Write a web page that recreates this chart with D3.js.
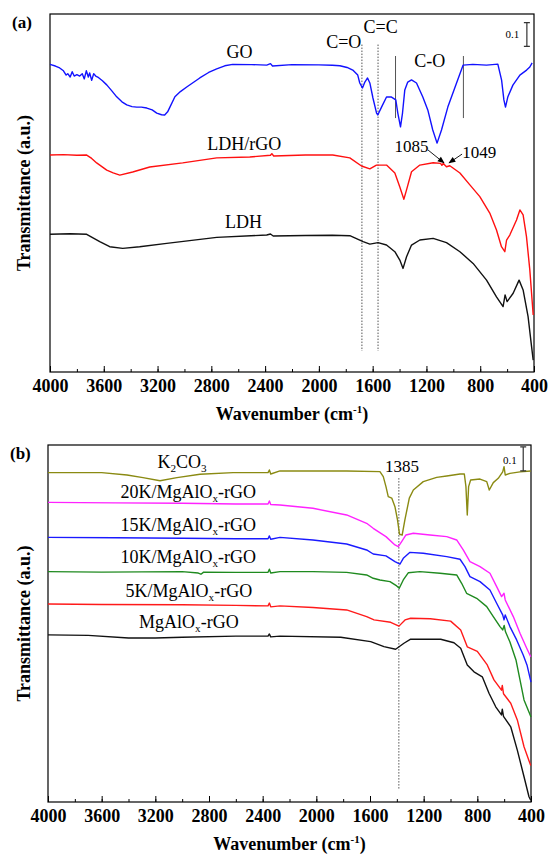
<!DOCTYPE html>
<html>
<head>
<meta charset="utf-8">
<script src="https://cdn.jsdelivr.net/npm/d3@7"></script>
<style>
body { margin: 0; background: #fff; }
svg { font-family: "Liberation Serif", "Times New Roman", serif; }
</style>
</head>
<body>
<script>
const xTicks = d3.range(4000, 399, -400);
const xMinor = d3.range(4000, 399, -200);

// panel (a) spectra: [wavenumber cm-1, transmittance a.u.]
const goA = [[4000,1.289],[3960,1.282],[3928,1.274],[3900,1.262],[3880,1.244],[3868,1.250],[3850,1.236],[3835,1.258],[3820,1.240],[3800,1.246],[3779,1.240],[3760,1.250],[3745,1.228],[3730,1.262],[3715,1.236],[3705,1.253],[3690,1.222],[3675,1.250],[3660,1.240],[3645,1.236],[3610,1.220],[3578,1.203],[3540,1.178],[3504,1.153],[3465,1.132],[3429,1.119],[3390,1.112],[3355,1.110],[3320,1.110],[3280,1.106],[3240,1.098],[3206,1.085],[3170,1.078],[3147,1.077],[3125,1.090],[3108,1.110],[3071,1.153],[3030,1.175],[2983,1.194],[2886,1.232],[2820,1.255],[2760,1.270],[2700,1.283],[2641,1.289],[2500,1.288],[2388,1.286],[2360,1.292],[2345,1.282],[2200,1.288],[2000,1.287],[1900,1.285],[1844,1.283],[1790,1.276],[1748,1.265],[1711,1.244],[1696,1.211],[1676,1.190],[1658,1.215],[1638,1.232],[1621,1.211],[1598,1.148],[1571,1.085],[1562,1.077],[1534,1.110],[1497,1.152],[1460,1.152],[1428,1.140],[1413,1.085],[1393,1.027],[1378,1.085],[1361,1.182],[1339,1.215],[1311,1.224],[1274,1.211],[1227,1.152],[1190,1.098],[1153,1.014],[1121,0.959],[1088,1.014],[1041,1.110],[976,1.211],[927,1.286],[855,1.289],[753,1.286],[669,1.290],[641,1.223],[624,1.140],[612,1.110],[595,1.152],[557,1.202],[505,1.244],[455,1.265],[431,1.278],[414,1.295]];
const ldhRgoA = [[4000,0.909],[3900,0.911],[3800,0.908],[3727,0.909],[3690,0.895],[3653,0.876],[3578,0.846],[3530,0.834],[3481,0.825],[3385,0.838],[3258,0.859],[3013,0.876],[2760,0.897],[2514,0.901],[2360,0.908],[2350,0.915],[2336,0.905],[2100,0.909],[1897,0.909],[1770,0.897],[1683,0.863],[1621,0.851],[1572,0.867],[1497,0.867],[1435,0.834],[1398,0.775],[1368,0.724],[1348,0.763],[1311,0.839],[1249,0.867],[1150,0.877],[1095,0.874],[1085,0.866],[1075,0.874],[1051,0.860],[1026,0.864],[951,0.834],[877,0.784],[803,0.735],[729,0.666],[679,0.595],[642,0.525],[617,0.504],[604,0.553],[580,0.574],[530,0.637],[505,0.679],[481,0.658],[456,0.567],[431,0.427],[406,0.239]];
const ldhA = [[4000,0.577],[3850,0.579],[3727,0.577],[3630,0.546],[3556,0.525],[3459,0.518],[3333,0.525],[3132,0.539],[2760,0.564],[2388,0.574],[2360,0.578],[2340,0.570],[2100,0.572],[1900,0.573],[1770,0.571],[1671,0.546],[1621,0.536],[1560,0.542],[1497,0.532],[1435,0.504],[1398,0.469],[1374,0.434],[1348,0.483],[1311,0.532],[1249,0.553],[1150,0.560],[1051,0.542],[951,0.504],[853,0.455],[753,0.385],[679,0.315],[630,0.274],[615,0.323],[600,0.295],[555,0.330],[511,0.385],[481,0.344],[444,0.232],[418,0.106],[406,0.050]];

// panel (b) spectra
const k2co3B = [[4000,1.384],[3600,1.384],[3411,1.374],[3292,1.363],[3165,1.350],[3039,1.363],[2867,1.377],[2621,1.384],[2360,1.384],[2350,1.395],[2340,1.378],[2271,1.391],[1774,1.391],[1526,1.388],[1501,1.367],[1481,1.325],[1464,1.283],[1438,1.277],[1414,1.241],[1395,1.185],[1380,1.125],[1360,1.122],[1340,1.185],[1307,1.277],[1277,1.311],[1203,1.346],[1103,1.364],[1028,1.370],[929,1.378],[897,1.378],[885,1.325],[875,1.206],[865,1.325],[850,1.353],[780,1.357],[730,1.346],[711,1.311],[681,1.342],[644,1.360],[611,1.387],[601,1.409],[592,1.374],[557,1.381],[482,1.387],[402,1.391]];
const k20B = [[4000,1.259],[3500,1.257],[3000,1.255],[2600,1.252],[2360,1.252],[2350,1.265],[2340,1.250],[2271,1.248],[2025,1.234],[1774,1.206],[1625,1.171],[1576,1.150],[1481,1.115],[1414,1.080],[1389,1.073],[1364,1.094],[1332,1.122],[1277,1.129],[1153,1.122],[1028,1.115],[954,1.101],[905,1.059],[855,1.010],[780,0.989],[706,0.961],[656,0.905],[619,0.863],[601,0.877],[592,0.849],[532,0.779],[482,0.709],[432,0.646],[402,0.610]];
const k15B = [[4000,1.112],[3500,1.110],[3000,1.108],[2600,1.106],[2360,1.106],[2350,1.118],[2340,1.104],[2271,1.112],[2025,1.101],[1774,1.084],[1625,1.059],[1576,1.042],[1481,1.034],[1414,1.010],[1377,0.999],[1352,1.024],[1302,1.049],[1203,1.045],[1028,1.031],[929,1.020],[892,0.989],[855,0.947],[780,0.926],[706,0.891],[656,0.835],[611,0.786],[601,0.765],[592,0.786],[557,0.737],[507,0.681],[458,0.618],[430,0.576],[400,0.504]];
const k10B = [[4000,0.968],[3600,0.966],[3000,0.968],[2880,0.962],[2860,0.957],[2840,0.966],[2600,0.965],[2360,0.965],[2350,0.978],[2340,0.962],[2271,0.968],[2025,0.968],[1774,0.965],[1625,0.954],[1576,0.940],[1526,0.933],[1451,0.926],[1401,0.908],[1382,0.898],[1352,0.933],[1315,0.963],[1228,0.968],[1078,0.961],[954,0.954],[917,0.919],[880,0.877],[805,0.856],[730,0.821],[681,0.779],[631,0.737],[611,0.723],[600,0.742],[590,0.715],[557,0.672],[512,0.597],[452,0.429],[400,0.357]];
const k5B = [[4000,0.832],[3600,0.830],[3000,0.829],[2600,0.826],[2360,0.824],[2350,0.836],[2340,0.820],[2271,0.824],[2025,0.817],[1774,0.807],[1625,0.779],[1570,0.765],[1446,0.755],[1384,0.739],[1339,0.765],[1297,0.772],[1150,0.770],[999,0.760],[924,0.723],[875,0.652],[800,0.633],[726,0.576],[676,0.513],[620,0.470],[614,0.490],[605,0.455],[551,0.415],[502,0.345],[452,0.232],[402,0.153]];
const k0B = [[4000,0.702],[3700,0.700],[3400,0.689],[3200,0.689],[3000,0.692],[2600,0.697],[2360,0.697],[2350,0.706],[2340,0.694],[2271,0.697],[1818,0.692],[1595,0.674],[1496,0.653],[1409,0.642],[1347,0.667],[1297,0.684],[1073,0.684],[974,0.669],[924,0.646],[875,0.576],[825,0.547],[763,0.526],[713,0.457],[663,0.400],[620,0.366],[614,0.390],[605,0.360],[551,0.316],[502,0.218],[452,0.106],[415,0.022],[402,0.008]];

const markA = [1680, 1560];   // dotted C=O, C=C
const coRange = [1430, 925];  // solid C-O bounds
const markB = [1385];

const svg = d3.select('body').append('svg')
    .attr('width', 548)
    .attr('height', 854);

svg.append('defs').append('marker')
    .attr('id', 'arr').attr('viewBox', '0 0 10 10').attr('refX', 9).attr('refY', 5)
    .attr('markerUnits', 'userSpaceOnUse')
    .attr('markerWidth', 8).attr('markerHeight', 7).attr('orient', 'auto')
  .append('path').attr('d', 'M0,1L10,5L0,9Z').attr('fill', '#000');

function panel(box) {
  const x = d3.scaleLinear().domain([4000, 400]).range([box.left, box.right]);
  const y = d3.scaleLinear().domain([0, 1.5]).range([box.bottom, box.top]);
  const g = svg.append('g');

  g.append('g')
      .attr('transform', 'translate(0,' + box.bottom + ')')
      .call(d3.axisBottom(x).tickValues(xMinor).tickSize(-3).tickFormat(''))
      .call(s => s.select('.domain').remove());
  const ax = g.append('g')
      .attr('transform', 'translate(0,' + box.bottom + ')')
      .call(d3.axisBottom(x).tickValues(xTicks).tickSize(-6).tickPadding(7).tickFormat(d3.format('d')));
  ax.select('.domain').remove();
  ax.attr('font-family', null);
  ax.selectAll('text')
      .style('font-family', '"Liberation Serif", serif')
      .style('font-size', '18px')
      .style('font-weight', 'bold')
      .attr('fill', '#000');

  g.append('rect')
      .attr('x', box.left).attr('y', box.top)
      .attr('width', box.right - box.left).attr('height', box.bottom - box.top)
      .attr('fill', 'none').attr('stroke', '#000').attr('stroke-width', 1.2);

  const xt = g.append('text')
      .attr('x', (box.left + box.right) / 2).attr('y', box.bottom + 48)
      .attr('text-anchor', 'middle')
      .style('font-size', '18px').style('font-weight', 'bold')
      .text('Wavenumber (cm');
  xt.append('tspan').attr('dy', -7).style('font-size', '11px').text('-1');
  xt.append('tspan').attr('dy', 7).text(')');

  g.append('text')
      .attr('transform', 'translate(30,' + (box.top + box.bottom) / 2 + ') rotate(-90)')
      .attr('text-anchor', 'middle')
      .style('font-size', '18px').style('font-weight', 'bold')
      .text('Transmittance (a.u.)');

  g.append('text')
      .attr('x', box.label[0]).attr('y', box.label[1])
      .style('font-size', '17px').style('font-weight', 'bold')
      .text(box.name);

  return {x, y, g};
}

function curve(p, data, color) {
  const line = d3.line().x(d => p.x(d[0])).y(d => p.y(d[1]));
  p.g.append('path')
      .datum(data)
      .attr('d', line)
      .attr('fill', 'none')
      .attr('stroke', color)
      .attr('stroke-width', 1.4)
      .attr('stroke-linejoin', 'round');
}

// parts: [text, 'sub'] pieces
function label(p, wn, v, parts, size) {
  const t = p.g.append('text')
      .attr('x', p.x(wn)).attr('y', p.y(v))
      .attr('text-anchor', 'middle')
      .style('font-size', size + 'px');
  let shifted = false;
  parts.forEach(([s, kind]) => {
    const ts = t.append('tspan').text(s);
    if (kind === 'sub' && !shifted) { ts.attr('dy', 4).style('font-size', (size * 0.62) + 'px'); shifted = true; }
    else if (kind !== 'sub' && shifted) { ts.attr('dy', -4); shifted = false; }
    else if (kind === 'sub') ts.style('font-size', (size * 0.62) + 'px');
  });
}

function scaleBar(p, wn, v0, v1, txtWn, txtV) {
  const x = p.x(wn);
  p.g.append('path')
      .attr('d', 'M' + (x - 3) + ',' + p.y(v1) + 'H' + (x + 3) + 'M' + x + ',' + p.y(v1) + 'V' + p.y(v0) + 'M' + (x - 3) + ',' + p.y(v0) + 'H' + (x + 3))
      .attr('stroke', '#333').attr('stroke-width', 1.2).attr('fill', 'none');
  p.g.append('text')
      .attr('x', p.x(txtWn)).attr('y', p.y(txtV))
      .attr('text-anchor', 'middle')
      .style('font-size', '11px')
      .text('0.1');
}

// ---- panel (a)
const pa = panel({left: 50, right: 534, top: 14, bottom: 372, name: '(a)', label: [12, 28]});

pa.g.selectAll('.dash').data(markA).enter().append('line')
    .attr('x1', d => pa.x(d)).attr('x2', d => pa.x(d))
    .attr('y1', pa.y(1.372)).attr('y2', pa.y(0.088))
    .attr('stroke', '#555').attr('stroke-width', 1).attr('stroke-dasharray', '1.5,1.5');
pa.g.selectAll('.solid').data(coRange).enter().append('line')
    .attr('x1', d => pa.x(d)).attr('x2', d => pa.x(d))
    .attr('y1', pa.y(1.324)).attr('y2', pa.y(1.064))
    .attr('stroke', '#555').attr('stroke-width', 1);

curve(pa, goA, '#1212ff');
curve(pa, ldhRgoA, '#ff1010');
curve(pa, ldhA, '#111');

label(pa, 2590, 1.316, [['GO']], 18);
label(pa, 2555, 0.930, [['LDH/rGO']], 18);
label(pa, 2560, 0.603, [['LDH']], 18);
label(pa, 1815, 1.357, [['C=O']], 18);
label(pa, 1541, 1.420, [['C=C']], 18);
label(pa, 1175, 1.278, [['C-O']], 18);
label(pa, 1311, 0.922, [['1085']], 17);
label(pa, 807, 0.897, [['1049']], 17);
scaleBar(pa, 453, 1.364, 1.464, 560, 1.399);

const arrows = [[[1188, 0.930], [1069, 0.876]], [[935, 0.913], [1032, 0.876]]];
pa.g.selectAll('.arrow').data(arrows).enter().append('line')
    .attr('x1', d => pa.x(d[0][0])).attr('y1', d => pa.y(d[0][1]))
    .attr('x2', d => pa.x(d[1][0])).attr('y2', d => pa.y(d[1][1]))
    .attr('stroke', '#000').attr('stroke-width', 0.9).attr('marker-end', 'url(#arr)');

// ---- panel (b)
const pb = panel({left: 48, right: 531, top: 445, bottom: 802, name: '(b)', label: [10, 459]});

pb.g.selectAll('.dash').data(markB).enter().append('line')
    .attr('x1', d => pb.x(d)).attr('x2', d => pb.x(d))
    .attr('y1', pb.y(1.361)).attr('y2', pb.y(0.050))
    .attr('stroke', '#555').attr('stroke-width', 1).attr('stroke-dasharray', '1.5,1.5');

curve(pb, k2co3B, '#8a8a12');
curve(pb, k20B, '#ff22ff');
curve(pb, k15B, '#1a1aff');
curve(pb, k10B, '#1f8a1f');
curve(pb, k5B, '#ff1a1a');
curve(pb, k0B, '#111');

label(pb, 3001, 1.403, [['K'], ['2', 'sub'], ['CO'], ['3', 'sub']], 18);
label(pb, 2955, 1.277, [['20K/MgAlO'], ['x', 'sub'], ['-rGO']], 18);
label(pb, 2955, 1.139, [['15K/MgAlO'], ['x', 'sub'], ['-rGO']], 18);
label(pb, 2955, 1.004, [['10K/MgAlO'], ['x', 'sub'], ['-rGO']], 18);
label(pb, 2950, 0.861, [['5K/MgAlO'], ['x', 'sub'], ['-rGO']], 18);
label(pb, 2950, 0.731, [['MgAlO'], ['x', 'sub'], ['-rGO']], 18);
label(pb, 1362, 1.387, [['1385']], 17);
scaleBar(pb, 458, 1.391, 1.492, 557, 1.420);
</script>
</body>
</html>
